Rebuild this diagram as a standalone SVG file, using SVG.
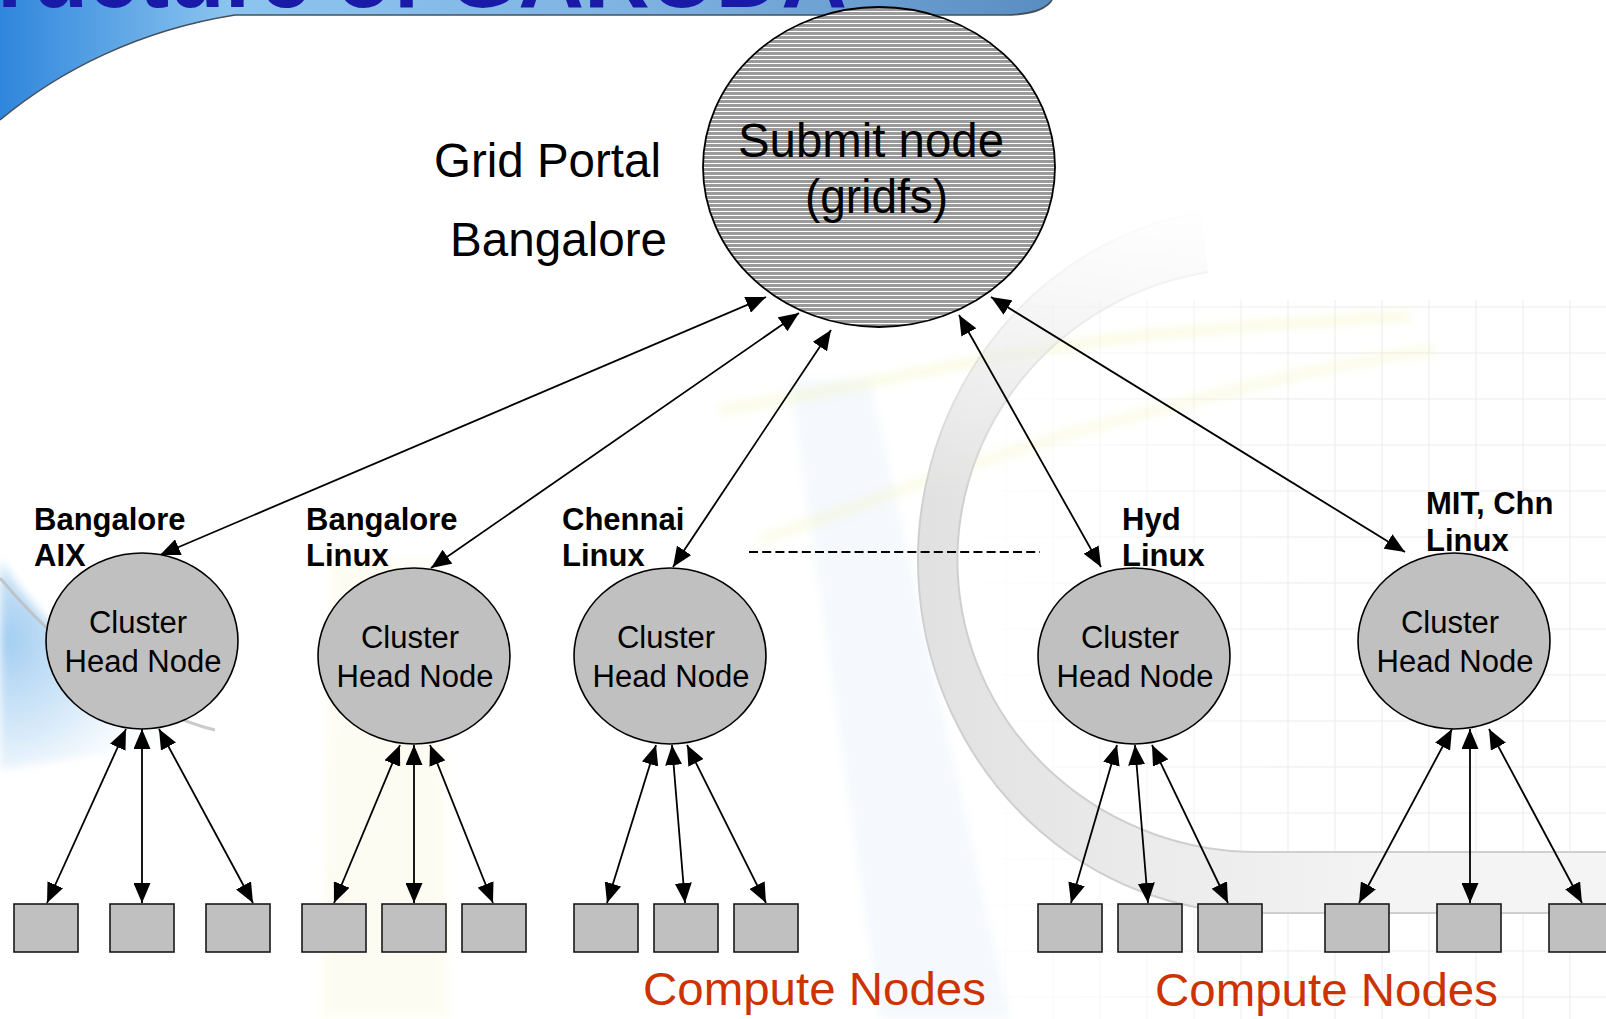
<svg xmlns="http://www.w3.org/2000/svg" width="1606" height="1019" viewBox="0 0 1606 1019">
  <style>
    .conn { stroke: #000; stroke-width: 1.8; fill: none; marker-start: url(#ah); marker-end: url(#ah); }
    .head { fill: #c0c0c0; stroke: #000; stroke-width: 1.6; }
    .cn { fill: #c0c0c0; stroke: #1a1a1a; stroke-width: 1.6; }
    .big { font-family: "Liberation Sans", Arial, sans-serif; font-size: 48px; fill: #000; }
    .in { font-family: "Liberation Sans", Arial, sans-serif; font-size: 31px; fill: #000; text-anchor: middle; }
    .lbl { font-family: "Liberation Sans", Arial, sans-serif; font-size: 31px; font-weight: bold; fill: #000; }
    .cmp { font-family: "Liberation Sans", Arial, sans-serif; font-size: 47px; fill: #cc3300; }
    .grid line { stroke: #ebebeb; stroke-width: 1; }
  </style>
  <defs>
    <marker id="ah" viewBox="0 0 20 17" refX="20" refY="8.5" markerWidth="20" markerHeight="17" markerUnits="userSpaceOnUse" orient="auto-start-reverse">
      <path d="M0,0 L20,8.5 L0,17 z" fill="#000"/>
    </marker>
    <pattern id="stripes" width="8" height="4" patternUnits="userSpaceOnUse">
      <rect width="8" height="4" fill="#9a9a9a"/>
      <rect y="3" width="8" height="1" fill="#ffffff"/>
    </pattern>
    <linearGradient id="bar" x1="0" y1="0" x2="1050" y2="0" gradientUnits="userSpaceOnUse">
      <stop offset="0" stop-color="#2f86dc"/>
      <stop offset="0.22" stop-color="#8cc5ef"/>
      <stop offset="0.6" stop-color="#7fb3e2"/>
      <stop offset="1" stop-color="#5a8ec2"/>
    </linearGradient>
    <radialGradient id="swoosh" cx="0" cy="640" r="200" gradientUnits="userSpaceOnUse">
      <stop offset="0" stop-color="#9fcbf0"/>
      <stop offset="0.5" stop-color="#c8e2f7" stop-opacity="0.7"/>
      <stop offset="1" stop-color="#ffffff" stop-opacity="0"/>
    </radialGradient>
    <linearGradient id="ringfill" x1="900" y1="0" x2="1400" y2="0" gradientUnits="userSpaceOnUse">
      <stop offset="0" stop-color="#e0e0e0"/>
      <stop offset="0.5" stop-color="#ebebeb"/>
      <stop offset="1" stop-color="#f4f4f4"/>
    </linearGradient>
    <linearGradient id="ringfade" x1="0" y1="200" x2="0" y2="500" gradientUnits="userSpaceOnUse">
      <stop offset="0" stop-color="#fff" stop-opacity="0"/>
      <stop offset="1" stop-color="#fff" stop-opacity="1"/>
    </linearGradient>
    <mask id="ringmask">
      <rect x="850" y="150" width="756" height="869" fill="url(#ringfade)"/>
    </mask>
    <linearGradient id="gridfade" x1="950" y1="0" x2="1300" y2="0" gradientUnits="userSpaceOnUse">
      <stop offset="0" stop-color="#fff" stop-opacity="0"/>
      <stop offset="1" stop-color="#fff" stop-opacity="1"/>
    </linearGradient>
    <mask id="gridmask">
      <rect x="900" y="280" width="706" height="739" fill="url(#gridfade)"/>
    </mask>
    <filter id="soft" x="-20%" y="-20%" width="140%" height="140%">
      <feGaussianBlur stdDeviation="5"/>
    </filter>
  </defs>

  <!-- slide background -->
  <rect width="1606" height="1019" fill="#ffffff"/>

  <!-- faint grid on the right -->
  <g class="grid" mask="url(#gridmask)">
    <line x1="1006" y1="300" x2="1006" y2="1019"/>
    <line x1="1053" y1="300" x2="1053" y2="1019"/>
    <line x1="1100" y1="300" x2="1100" y2="1019"/>
    <line x1="1147" y1="300" x2="1147" y2="1019"/>
    <line x1="1194" y1="300" x2="1194" y2="1019"/>
    <line x1="1241" y1="300" x2="1241" y2="1019"/>
    <line x1="1288" y1="300" x2="1288" y2="1019"/>
    <line x1="1335" y1="300" x2="1335" y2="1019"/>
    <line x1="1382" y1="300" x2="1382" y2="1019"/>
    <line x1="1429" y1="300" x2="1429" y2="1019"/>
    <line x1="1476" y1="300" x2="1476" y2="1019"/>
    <line x1="1523" y1="300" x2="1523" y2="1019"/>
    <line x1="1570" y1="300" x2="1570" y2="1019"/>
    <line x1="950" y1="307" x2="1606" y2="307"/>
    <line x1="950" y1="353" x2="1606" y2="353"/>
    <line x1="950" y1="399" x2="1606" y2="399"/>
    <line x1="950" y1="445" x2="1606" y2="445"/>
    <line x1="950" y1="491" x2="1606" y2="491"/>
    <line x1="950" y1="537" x2="1606" y2="537"/>
    <line x1="950" y1="583" x2="1606" y2="583"/>
    <line x1="950" y1="629" x2="1606" y2="629"/>
    <line x1="950" y1="675" x2="1606" y2="675"/>
    <line x1="950" y1="721" x2="1606" y2="721"/>
    <line x1="950" y1="767" x2="1606" y2="767"/>
    <line x1="950" y1="813" x2="1606" y2="813"/>
    <line x1="950" y1="859" x2="1606" y2="859"/>
    <line x1="950" y1="905" x2="1606" y2="905"/>
    <line x1="950" y1="951" x2="1606" y2="951"/>
    <line x1="950" y1="997" x2="1606" y2="997"/>
  </g>

  <!-- soft background washes -->
  <path d="M790,380 L870,380 L1010,1019 L880,1019 Z" fill="#e3edf8" opacity="0.35" filter="url(#soft)"/>
  <path d="M330,560 L440,560 L450,1019 L320,1019 Z" fill="#fdfbe8" opacity="0.5" filter="url(#soft)"/>
  <path d="M720,410 C850,390 1000,350 1150,335 C1260,325 1350,318 1410,317" stroke="#f0f5b5" stroke-width="9" fill="none" opacity="0.4" filter="url(#soft)"/>
  <path d="M760,540 C850,510 1000,450 1120,420 C1250,385 1350,360 1435,350" stroke="#f0f5b5" stroke-width="9" fill="none" opacity="0.35" filter="url(#soft)"/>

  <!-- large grey ring, fading out toward the top -->
  <g mask="url(#ringmask)">
    <path d="M1201,212 A340,353 0 0 0 1260,913 L1606,913 L1606,852 L1260,852 A300,292 0 0 1 1208,272 Z" fill="url(#ringfill)"/>
    <path d="M1201,212 A340,353 0 0 0 1260,913 L1606,913" fill="none" stroke="#cfcfcf" stroke-width="2"/>
    <path d="M1208,272 A300,292 0 0 0 1260,852 L1606,852" fill="none" stroke="#cfcfcf" stroke-width="2"/>
  </g>

  <!-- lower-left swoosh -->
  <path d="M0,560 C60,650 140,712 220,730 C150,745 60,760 0,770 Z" fill="url(#swoosh)" filter="url(#soft)"/>
  <path d="M0,578 C60,650 140,712 215,730" fill="none" stroke="#bdbdbd" stroke-width="3" opacity="0.8"/>

  <!-- title bar -->
  <path d="M0,0 H1052 C1046,9 1030,15 1005,15 H235 C140,30 60,70 0,120 Z" fill="url(#bar)"/>
  <path d="M1052,0 C1046,9 1030,15 1005,15 H235 C140,30 60,70 0,120" fill="none" stroke="#46505c" stroke-width="1.6"/>
  <text x="-3" y="7" font-family="Liberation Sans, Arial, sans-serif" font-size="92" font-weight="bold" fill="#1a1aa8" textLength="850" lengthAdjust="spacingAndGlyphs">ructure of GARUDA</text>

  <!-- site captions -->
  <text class="big" x="434" y="177" textLength="227" lengthAdjust="spacingAndGlyphs">Grid Portal</text>
  <text class="big" x="450" y="256" textLength="217" lengthAdjust="spacingAndGlyphs">Bangalore</text>

  <!-- connectors -->
  <g id="connectors">
    <line class="conn" x1="766" y1="297" x2="160" y2="555"/>
    <line class="conn" x1="799" y1="313" x2="431" y2="568"/>
    <line class="conn" x1="831" y1="330" x2="673" y2="567"/>
    <line class="conn" x1="959" y1="315" x2="1101" y2="567"/>
    <line class="conn" x1="991" y1="297" x2="1405" y2="552"/>

    <line class="conn" x1="126" y1="729" x2="47" y2="903"/>
    <line class="conn" x1="142" y1="729" x2="142" y2="903"/>
    <line class="conn" x1="159" y1="729" x2="253" y2="903"/>

    <line class="conn" x1="400" y1="745" x2="334" y2="903"/>
    <line class="conn" x1="414" y1="745" x2="414" y2="903"/>
    <line class="conn" x1="430" y1="745" x2="493" y2="903"/>

    <line class="conn" x1="656" y1="745" x2="607" y2="903"/>
    <line class="conn" x1="672" y1="745" x2="685" y2="903"/>
    <line class="conn" x1="687" y1="745" x2="766" y2="903"/>

    <line class="conn" x1="1117" y1="745" x2="1071" y2="903"/>
    <line class="conn" x1="1135" y1="745" x2="1148" y2="903"/>
    <line class="conn" x1="1152" y1="745" x2="1228" y2="903"/>

    <line class="conn" x1="1452" y1="729" x2="1359" y2="903"/>
    <line class="conn" x1="1470" y1="729" x2="1470" y2="903"/>
    <line class="conn" x1="1489" y1="729" x2="1582" y2="903"/>

    <line x1="749" y1="552" x2="1040" y2="552" stroke="#000" stroke-width="1.8" stroke-dasharray="9 4.2"/>
  </g>

  <!-- submit node -->
  <g id="submit-node">
    <ellipse cx="879" cy="167" rx="176" ry="160" fill="url(#stripes)" stroke="#000" stroke-width="1.8"/>
    <text class="big" x="738" y="157" textLength="266" lengthAdjust="spacingAndGlyphs">Submit node</text>
    <text class="big" x="805" y="213" textLength="143" lengthAdjust="spacingAndGlyphs">(gridfs)</text>
  </g>

  <!-- cluster head nodes -->
  <g id="head-bangalore-aix">
    <ellipse class="head" cx="142" cy="641" rx="96" ry="88"/>
    <text class="in" x="138" y="633">Cluster</text>
    <text class="in" x="143" y="672">Head Node</text>
    <text class="lbl" x="34" y="530">Bangalore</text>
    <text class="lbl" x="34" y="566">AIX</text>
  </g>
  <g id="head-bangalore-linux">
    <ellipse class="head" cx="414" cy="656" rx="96" ry="88"/>
    <text class="in" x="410" y="648">Cluster</text>
    <text class="in" x="415" y="687">Head Node</text>
    <text class="lbl" x="306" y="530">Bangalore</text>
    <text class="lbl" x="306" y="566">Linux</text>
  </g>
  <g id="head-chennai-linux">
    <ellipse class="head" cx="670" cy="656" rx="96" ry="88"/>
    <text class="in" x="666" y="648">Cluster</text>
    <text class="in" x="671" y="687">Head Node</text>
    <text class="lbl" x="562" y="530">Chennai</text>
    <text class="lbl" x="562" y="566">Linux</text>
  </g>
  <g id="head-hyd-linux">
    <ellipse class="head" cx="1134" cy="656" rx="96" ry="88"/>
    <text class="in" x="1130" y="648">Cluster</text>
    <text class="in" x="1135" y="687">Head Node</text>
    <text class="lbl" x="1122" y="530">Hyd</text>
    <text class="lbl" x="1122" y="566">Linux</text>
  </g>
  <g id="head-mit-chn-linux">
    <ellipse class="head" cx="1454" cy="641" rx="96" ry="88"/>
    <text class="in" x="1450" y="633">Cluster</text>
    <text class="in" x="1455" y="672">Head Node</text>
    <text class="lbl" x="1426" y="514">MIT, Chn</text>
    <text class="lbl" x="1426" y="551">Linux</text>
  </g>

  <!-- compute nodes -->
  <g id="compute-nodes">
    <rect class="cn" x="14" y="904" width="64" height="48"/>
    <rect class="cn" x="110" y="904" width="64" height="48"/>
    <rect class="cn" x="206" y="904" width="64" height="48"/>
    <rect class="cn" x="302" y="904" width="64" height="48"/>
    <rect class="cn" x="382" y="904" width="64" height="48"/>
    <rect class="cn" x="462" y="904" width="64" height="48"/>
    <rect class="cn" x="574" y="904" width="64" height="48"/>
    <rect class="cn" x="654" y="904" width="64" height="48"/>
    <rect class="cn" x="734" y="904" width="64" height="48"/>
    <rect class="cn" x="1038" y="904" width="64" height="48"/>
    <rect class="cn" x="1118" y="904" width="64" height="48"/>
    <rect class="cn" x="1198" y="904" width="64" height="48"/>
    <rect class="cn" x="1325" y="904" width="64" height="48"/>
    <rect class="cn" x="1437" y="904" width="64" height="48"/>
    <rect class="cn" x="1549" y="904" width="64" height="48"/>
  </g>

  <text class="cmp" x="643" y="1005" textLength="343" lengthAdjust="spacingAndGlyphs">Compute Nodes</text>
  <text class="cmp" x="1155" y="1006" textLength="343" lengthAdjust="spacingAndGlyphs">Compute Nodes</text>
</svg>
